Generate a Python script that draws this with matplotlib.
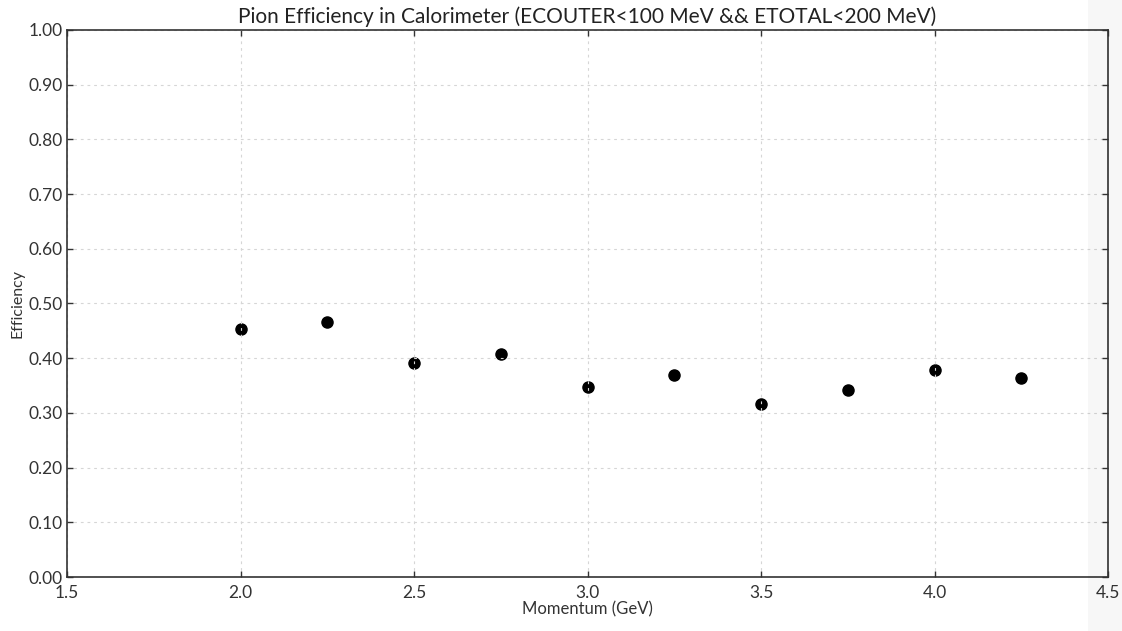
import matplotlib
matplotlib.use('Agg')
import matplotlib.pyplot as plt
import matplotlib.ticker as mticker
from matplotlib.patches import Rectangle

# Pion efficiency vs momentum
momentum = [2.0, 2.25, 2.5, 2.75, 3.0, 3.25, 3.5, 3.75, 4.0, 4.25]
efficiency = [0.454, 0.467, 0.392, 0.408, 0.347, 0.369, 0.316, 0.342, 0.378, 0.364]

plt.rcParams['font.family'] = ['Lato', 'DejaVu Sans']

fig = plt.figure(figsize=(11.22, 6.31), dpi=100)
ax = fig.add_axes([67 / 1122, 1 - 577 / 631, (1108 - 67) / 1122, (577 - 30) / 631])

ax.plot(momentum, efficiency, 'o', color='black', markersize=8, zorder=1)

ax.set_xlim(1.5, 4.5)
ax.set_ylim(0.0, 1.0)
ax.xaxis.set_major_locator(mticker.MultipleLocator(0.5))
ax.yaxis.set_major_locator(mticker.MultipleLocator(0.1))
ax.xaxis.set_major_formatter(mticker.FormatStrFormatter('%.1f'))
ax.yaxis.set_major_formatter(mticker.FormatStrFormatter('%.2f'))

# grid sits over the markers but under the frame
ax.set_axisbelow('line')
ax.grid(True, linestyle=(0, (2.5, 3.5)), color='#d6d6d6', linewidth=0.8)

ax.tick_params(direction='in', length=4, width=1, colors='#333333',
               labelsize=12.5, top=True, right=True)
ax.tick_params(axis='x', pad=6)
ax.tick_params(axis='y', pad=3)
for s in ax.spines.values():
    s.set_color('#333333')
    s.set_linewidth(1.2)
    s.set_zorder(3)

ax.set_title('Pion Efficiency in Calorimeter (ECOUTER<100 MeV && ETOTAL<200 MeV)',
             fontsize=15, color='#222222', pad=5)
ax.set_xlabel('Momentum (GeV)', fontsize=12, color='#333333', labelpad=0)
ax.set_ylabel('Efficiency', fontsize=11.5, color='#333333', labelpad=3)

# faint gray band at the right edge
fig.patches.append(Rectangle((1088 / 1122, 0), 34 / 1122, 1, transform=fig.transFigure,
                             facecolor='black', alpha=0.03, zorder=10))

fig.savefig('out.png', dpi=100)
